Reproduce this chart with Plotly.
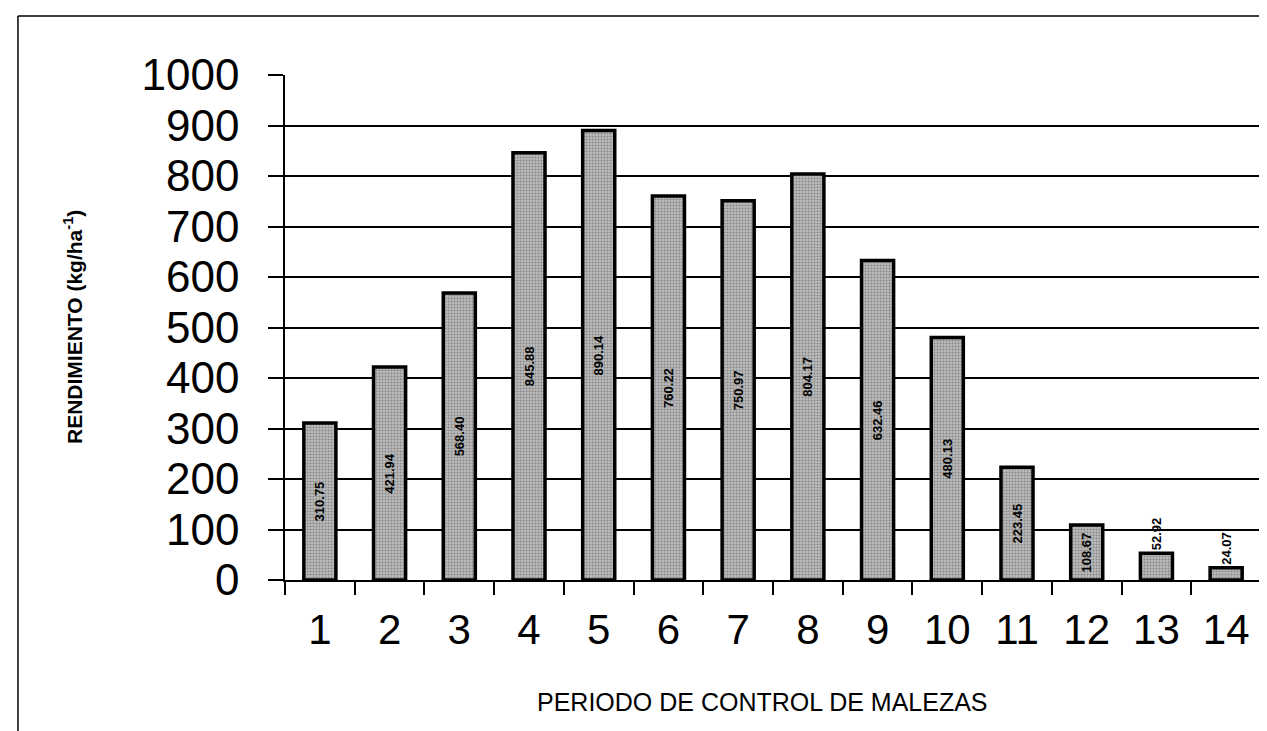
import plotly.graph_objects as go

periods = [str(i) for i in range(1, 15)]
rendimiento = [310.75, 421.94, 568.40, 845.88, 890.14, 760.22, 750.97,
               804.17, 632.46, 480.13, 223.45, 108.67, 52.92, 24.07]
y_ticks = list(range(0, 1001, 100))

FONT = "Arial, 'Liberation Sans', sans-serif"

text_pos = ["inside" if v > 80 else "outside" for v in rendimiento]

fig = go.Figure()
fig.add_trace(go.Bar(
    x=periods,
    y=rendimiento,
    marker=dict(
        color="#a8a8a8",
        line=dict(color="black", width=3.5),
        pattern=dict(shape=".", fgcolor="#505050", bgcolor="#bdbdbd",
                     size=3, solidity=0.4),
    ),
    texttemplate="%{y:.2f}",
    textposition=text_pos,
    textangle=-90,
    insidetextanchor="middle",
    constraintext="none",
    textfont=dict(family=FONT, size=13, color="black", weight="bold"),
    cliponaxis=False,
))

fig.update_layout(
    width=1267, height=731,
    margin=dict(l=277, r=14, t=67, b=159),
    paper_bgcolor="white", plot_bgcolor="white",
    bargap=0.54,
    showlegend=False,
    font=dict(family=FONT, color="black"),
    xaxis=dict(
        type="category",
        showgrid=False,
        showline=True, linecolor="black", linewidth=1.5,
        ticks="outside", tickson="boundaries", ticklen=13,
        tickcolor="black", tickwidth=1.5,
        tickfont=dict(family=FONT, size=42, color="black"),
        ticklabelstandoff=12,
    ),
    yaxis=dict(
        range=[0, 1000],
        tickvals=y_ticks,
        showgrid=True, gridcolor="black", gridwidth=1.8,
        showline=True, linecolor="black", linewidth=1.5,
        zeroline=False,
        ticks="outside", ticklen=15, tickcolor="black", tickwidth=1.5,
        tickfont=dict(family=FONT, size=44, color="black"),
        ticklabelstandoff=20,
    ),
    annotations=[
        dict(text="RENDIMIENTO (kg/ha<sup>-1</sup>)", textangle=-90,
             xref="paper", yref="paper", x=-0.2172, y=0.501,
             showarrow=False, xanchor="center", yanchor="middle",
             font=dict(family=FONT, size=21, color="black", weight="bold")),
        dict(text="PERIODO DE CONTROL DE MALEZAS",
             xref="paper", yref="paper", x=0.489, y=-0.242,
             showarrow=False, xanchor="center", yanchor="middle",
             font=dict(family=FONT, size=25, color="black")),
    ],
    shapes=[
        dict(type="line", xref="paper", yref="paper",
             x0=-0.2736, x1=1.1, y0=1.1168, y1=1.1168,
             line=dict(color="black", width=1.5)),
        dict(type="line", xref="paper", yref="paper",
             x0=-0.2736, x1=-0.2736, y0=1.1168, y1=-0.32,
             line=dict(color="black", width=1.5)),
    ],
)

fig.write_html("out.html")
